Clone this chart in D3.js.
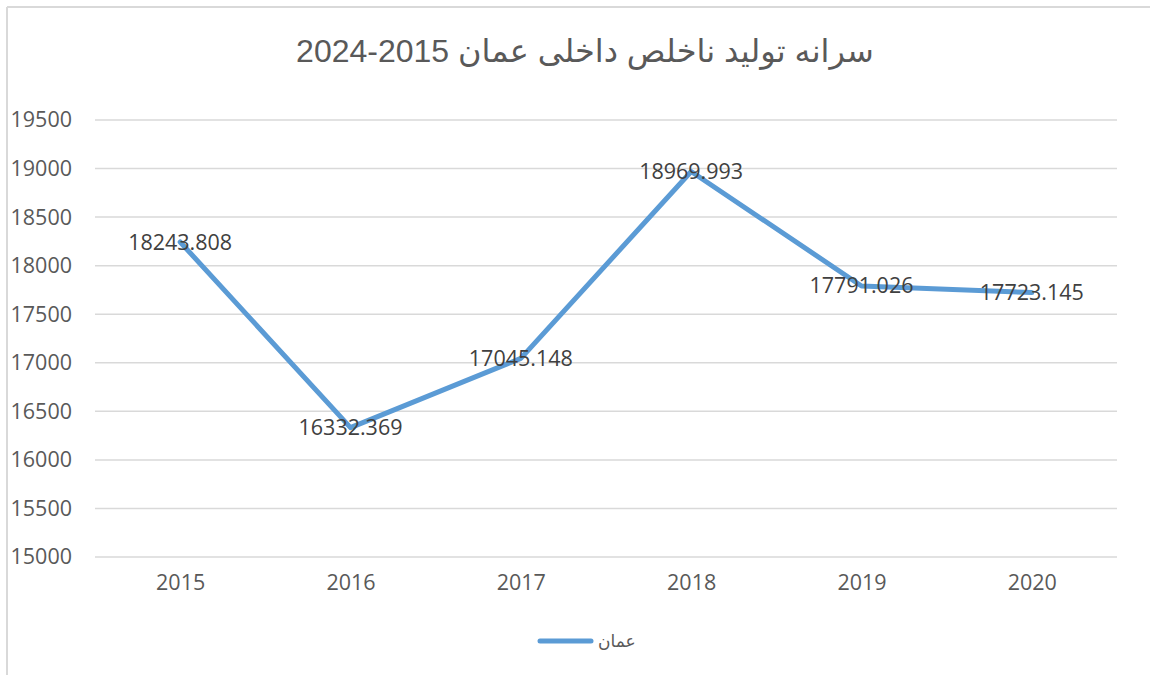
<!DOCTYPE html>
<html>
<head>
<meta charset="utf-8">
<script src="https://cdn.jsdelivr.net/npm/d3@7"></script>
<style>
  body { margin: 0; background: #fff; }
  svg { display: block; }
</style>
</head>
<body>
<div id="chart"></div>
<script>
var years = ["2015", "2016", "2017", "2018", "2019", "2020"];
var values = [18243.808, 16332.369, 17045.148, 18969.993, 17791.026, 17723.145];
var yTicks = [15000, 15500, 16000, 16500, 17000, 17500, 18000, 18500, 19000, 19500];
var seriesName = "عمان";
// bidi turns the year range around when shown next to the Arabic text
var chartTitle = "سرانه تولید ناخلص داخلی عمان 2015-2024";

var width = 1151;
var height = 675;
var lineColor = "#5b9bd5";
var gridColor = "#d9d9d9";
var numFont = "'Open Sans', 'DejaVu Sans', sans-serif";

var svg = d3.select("#chart")
	.append("svg")
	.attr("width", width)
	.attr("height", height);

// chart frame (only top and left edges are visible)
svg.append("line")
	.attr("x1", 7).attr("y1", 7).attr("x2", 1150).attr("y2", 7)
	.attr("stroke", gridColor).attr("stroke-width", 2);
svg.append("line")
	.attr("x1", 7).attr("y1", 7).attr("x2", 7).attr("y2", height)
	.attr("stroke", gridColor).attr("stroke-width", 2);

svg.append("text")
	.attr("x", 585)
	.attr("y", 62)
	.attr("direction", "rtl")
	.attr("text-anchor", "middle")
	.attr("font-family", "'Liberation Sans', Arial, 'DejaVu Sans', sans-serif")
	.attr("font-size", 32)
	.attr("fill", "#595959")
	.text(chartTitle);

var xScale = d3.scalePoint()
	.domain(years)
	.range([95, 1117])
	.padding(0.5);

var yScale = d3.scaleLinear()
	.domain([15000, 19500])
	.range([557, 120]);

// gridlines
svg.append("g")
	.selectAll("line")
	.data(yTicks)
	.enter()
	.append("line")
	.attr("x1", 95)
	.attr("x2", 1117)
	.attr("y1", function(d) { return yScale(d); })
	.attr("y2", function(d) { return yScale(d); })
	.attr("stroke", gridColor)
	.attr("stroke-width", 1.5);

var yAxis = d3.axisLeft(yScale)
	.tickValues(yTicks)
	.tickSize(0)
	.tickPadding(23)
	.tickFormat(function(d) { return d; });

var yAxisHandle = svg.append("g")
	.attr("transform", "translate(95,0)")
	.call(yAxis);

var xAxis = d3.axisBottom(xScale)
	.tickSize(0)
	.tickPadding(18);

var xAxisHandle = svg.append("g")
	.attr("transform", "translate(0,557)")
	.call(xAxis);

[yAxisHandle, xAxisHandle].forEach(function(g) {
	g.select(".domain").remove();
	g.selectAll("text")
		.attr("font-family", numFont)
		.attr("font-size", 21.5)
		.attr("fill", "#595959");
});

var line = d3.line()
	.x(function(d, i) { return xScale(years[i]); })
	.y(function(d) { return yScale(d); });

svg.append("path")
	.datum(values)
	.attr("d", line)
	.attr("fill", "none")
	.attr("stroke", lineColor)
	.attr("stroke-width", 5)
	.attr("stroke-linejoin", "round")
	.attr("stroke-linecap", "round");

svg.append("g")
	.selectAll("text")
	.data(values)
	.enter()
	.append("text")
	.attr("x", function(d, i) { return xScale(years[i]); })
	.attr("y", function(d) { return yScale(d); })
	.attr("dy", "0.35em")
	.attr("text-anchor", "middle")
	.attr("font-family", numFont)
	.attr("font-size", 21.5)
	.attr("fill", "#404040")
	.text(function(d) { return d3.format(".3f")(d); });

// legend
svg.append("line")
	.attr("x1", 540).attr("x2", 591)
	.attr("y1", 641).attr("y2", 641)
	.attr("stroke", lineColor)
	.attr("stroke-width", 5)
	.attr("stroke-linecap", "round");

svg.append("text")
	.attr("x", 598)
	.attr("y", 641)
	.attr("dy", "0.35em")
	.attr("font-family", "'DejaVu Sans', 'Noto Sans', sans-serif")
	.attr("font-size", 17)
	.attr("fill", "#595959")
	.text(seriesName);
</script>
</body>
</html>
